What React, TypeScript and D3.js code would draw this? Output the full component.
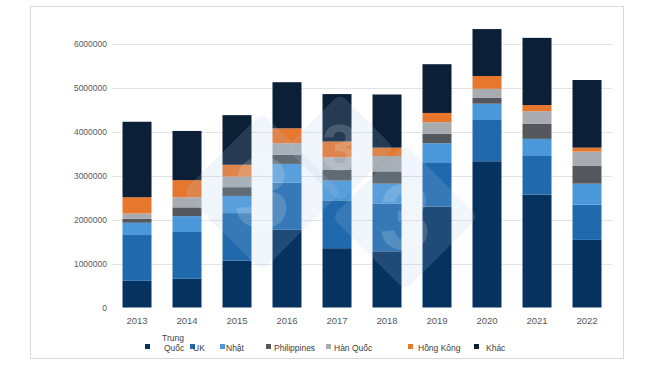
import React, { useEffect, useRef } from 'react';
import * as d3 from 'd3';

// years on the x axis
const years = ['2013', '2014', '2015', '2016', '2017', '2018', '2019', '2020', '2021', '2022'];

// series values (stack order, bottom to top)
const trungQuoc = [608000, 654000, 1065000, 1770000, 1350000, 1280000, 2300000, 3330000, 2570000, 1540000];
const uk = [1042000, 1066000, 1085000, 1070000, 1090000, 1090000, 990000, 940000, 880000, 800000];
const nhat = [280000, 360000, 390000, 430000, 450000, 450000, 450000, 370000, 390000, 480000];
const philippines = [90000, 200000, 200000, 210000, 250000, 280000, 210000, 140000, 340000, 410000];
const hanQuoc = [120000, 230000, 240000, 260000, 280000, 350000, 270000, 200000, 290000, 320000];
const hongKong = [370000, 390000, 270000, 340000, 360000, 190000, 210000, 290000, 140000, 90000];
const khac = [1720000, 1120000, 1130000, 1050000, 1080000, 1210000, 1110000, 1070000, 1530000, 1540000];

const seriesNames = ['Trung Quốc', 'UK', 'Nhật', 'Philippines', 'Hàn Quốc', 'Hồng Kông', 'Khác'];
const seriesValues = [trungQuoc, uk, nhat, philippines, hanQuoc, hongKong, khac];
const colours = ['#06325f', '#2069ad', '#4a97d9', '#54585d', '#a8abaf', '#e8772e', '#0b1f37'];

const yTicks = [0, 1000000, 2000000, 3000000, 4000000, 5000000, 6000000];

const width = 650;
const height = 366;
const font = '"Liberation Sans", Arial, sans-serif';

export default function App() {
    const ref = useRef(null);

    useEffect(() => {
        const svg = d3.select(ref.current);
        svg.selectAll('*').remove();

        const marginLeft = 112;
        const marginRight = 38;
        const marginTop = 44;
        const plotBottom = 307.5;

        const rows = years.map((y, i) => {
            const r: any = { year: y };
            seriesNames.forEach((n, j) => { r[n] = seriesValues[j][i]; });
            return r;
        });
        const stacked = d3.stack().keys(seriesNames)(rows);

        const x = d3.scaleBand()
            .domain(years)
            .range([marginLeft, width - marginRight])
            .paddingInner(0.42)
            .paddingOuter(0.21);
        const y = d3.scaleLinear()
            .domain([0, 6000000])
            .range([plotBottom, marginTop]);

        // outer frame
        svg.append('rect')
            .attr('x', 30.5).attr('y', 6.5)
            .attr('width', 593).attr('height', 352)
            .attr('fill', 'white')
            .attr('stroke', '#d9d9d9');

        // gridlines
        svg.append('g')
            .selectAll('line')
            .data(yTicks.slice(1))
            .enter()
            .append('line')
              .attr('x1', marginLeft)
              .attr('x2', width - marginRight)
              .attr('y1', d => Math.round(y(d)) + 0.5)
              .attr('y2', d => Math.round(y(d)) + 0.5)
              .attr('stroke', '#e3e3e3');

        // y labels
        svg.append('g')
            .selectAll('text')
            .data(yTicks)
            .enter()
            .append('text')
              .attr('x', 107)
              .attr('y', d => y(d) + 3)
              .attr('text-anchor', 'end')
              .attr('font-family', font)
              .attr('font-size', 8.5)
              .attr('fill', '#595959')
              .text(d => d3.format('d')(d));

        // bars
        svg.append('g')
            .selectAll('g')
            .data(stacked)
            .enter()
            .append('g')
              .attr('fill', (_d, i) => colours[i])
            .selectAll('rect')
            .data(d => d)
            .enter()
            .append('rect')
              .attr('x', d => x(d.data.year as string)!)
              .attr('y', d => y(d[1]))
              .attr('width', x.bandwidth())
              .attr('height', d => y(d[0]) - y(d[1]));

        // x labels
        svg.append('g')
            .selectAll('text')
            .data(years)
            .enter()
            .append('text')
              .attr('x', d => x(d)! + x.bandwidth() / 2)
              .attr('y', 324)
              .attr('text-anchor', 'middle')
              .attr('font-family', font)
              .attr('font-size', 9.5)
              .attr('fill', '#595959')
              .text(d => d);

        // watermark (3tres3 logo)
        const wm = svg.append('g').attr('pointer-events', 'none');
        const diamonds = [
            { cx: 262, cy: 192, r: 80, fs: 100 },
            { cx: 340, cy: 148, r: 55, fs: 64 },
            { cx: 405, cy: 217, r: 74, fs: 92 },
        ];
        diamonds.forEach(dm => {
            wm.append('rect')
                .attr('x', dm.cx - dm.r * 0.7)
                .attr('y', dm.cy - dm.r * 0.7)
                .attr('width', dm.r * 1.4)
                .attr('height', dm.r * 1.4)
                .attr('rx', 8)
                .attr('transform', `rotate(45 ${dm.cx} ${dm.cy})`)
                .attr('fill', '#a9c9e6')
                .attr('opacity', 0.17);
            wm.append('text')
                .attr('x', dm.cx)
                .attr('y', dm.cy + dm.fs * 0.35)
                .attr('text-anchor', 'middle')
                .attr('font-family', font)
                .attr('font-weight', 'bold')
                .attr('font-size', dm.fs)
                .attr('fill', 'white')
                .attr('opacity', 0.16)
                .text('3');
        });

        // legend
        const legendMarker = [145, 190, 220, 266, 326, 408, 474];
        const legendText = [164, 193, 226, 274, 334, 418, 486];
        const lg = svg.append('g');
        seriesNames.forEach((n, i) => {
            lg.append('rect')
                .attr('x', legendMarker[i])
                .attr('y', 344)
                .attr('width', 5)
                .attr('height', 5)
                .attr('fill', colours[i]);
            if (i === 0) {
                lg.append('text')
                    .attr('x', legendText[i] - 2)
                    .attr('y', 341)
                    .attr('font-family', font)
                    .attr('font-size', 8.5)
                    .attr('fill', '#404040')
                    .text('Trung');
                lg.append('text')
                    .attr('x', legendText[i])
                    .attr('y', 351)
                    .attr('font-family', font)
                    .attr('font-size', 8.5)
                    .attr('fill', '#404040')
                    .text('Quốc');
            } else {
                lg.append('text')
                    .attr('x', legendText[i])
                    .attr('y', 351)
                    .attr('font-family', font)
                    .attr('font-size', 8.5)
                    .attr('fill', '#404040')
                    .text(n);
            }
        });
    }, []);

    return (
        <svg ref={ref} width={width} height={height} viewBox={`0 0 ${width} ${height}`}
            style={{ position: 'absolute', left: 0, top: 0, background: 'white' }}>
        </svg>
    );
}
